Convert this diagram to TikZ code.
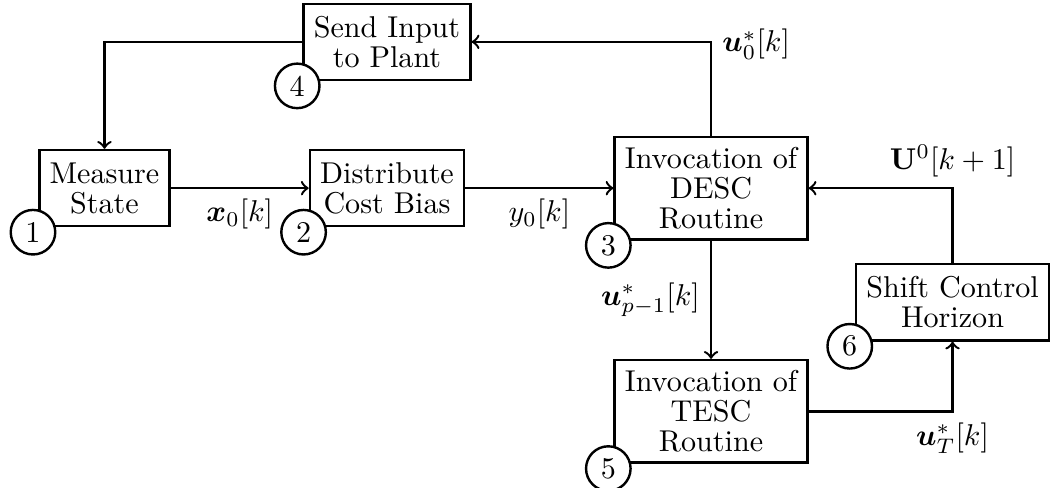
\documentclass[tikz,border=0pt]{standalone}
\usepackage{amsmath,amssymb,bm}
\usepackage{tikz}
\usetikzlibrary{positioning}

\begin{document}
\begin{tikzpicture}[
  box/.style={draw, thick, fill=white, inner sep=3.4pt, minimum height=8.9mm,
              align=center, font=\fontsize{10}{10}\selectfont},
  num/.style={draw, thick, circle, fill=white, inner sep=0pt, minimum size=5.2mm},
  arr/.style={->, thick}]
\useasboundingbox (-34.7pt,-99.3pt) rectangle (315.4pt,62.5pt);
% ---- main row ----
\node[box] (measure) at (0,0) {Measure\\State};
\node[box, right=16.1mm of measure] (bias) {Distribute\\Cost Bias};
\node[box, right=17.3mm of bias] (desc) {Invocation of\\DESC\\Routine};
\node[box, above=7.9mm of bias] (plant) {Send Input\\to Plant};
\node[box, below=13.8mm of desc] (tesc) {Invocation of\\TESC\\Routine};
\node[box, below right=2.6mm and 5.4mm of desc] (horizon) {Shift Control\\Horizon};
% ---- connectors ----
\draw[arr] (measure) -- node[below] {$\boldsymbol{x}_0[k]$} (bias);
\draw[arr] (bias) -- node[below] {$y_0[k]$} (desc);
\draw[arr] (desc.north) |- node[pos=0.5, right, yshift=-0.3mm] {$\boldsymbol{u}^*_0[k]$} (plant.east);
\draw[arr] (plant.west) -| (measure.north);
\draw[arr] (desc.south) -- node[left] {$\boldsymbol{u}^*_{p-1}[k]$} (tesc.north);
\draw[arr] (tesc.east) -| node[pos=0.5, below] {$\boldsymbol{u}^*_T[k]$} (horizon.south);
\draw[arr] (horizon.north) |- node[pos=0.5, above] {$\mathbf{U}^0[k+1]$} (desc.east);
% ---- step numbers ----
\node[num, xshift=-0.6mm, yshift=-0.55mm] (n1) at (measure.south west) {1};
\node[num, xshift=-0.6mm, yshift=-0.55mm] (n2) at (bias.south west) {2};
\node[num, xshift=-0.6mm, yshift=-0.55mm] (n3) at (desc.south west) {3};
\node[num, xshift=-0.6mm, yshift=-0.55mm] (n4) at (plant.south west) {4};
\node[num, xshift=-0.6mm, yshift=-0.55mm] (n5) at (tesc.south west) {5};
\node[num, xshift=-0.6mm, yshift=-0.55mm] (n6) at (horizon.south west) {6};
\end{tikzpicture}
\end{document}
